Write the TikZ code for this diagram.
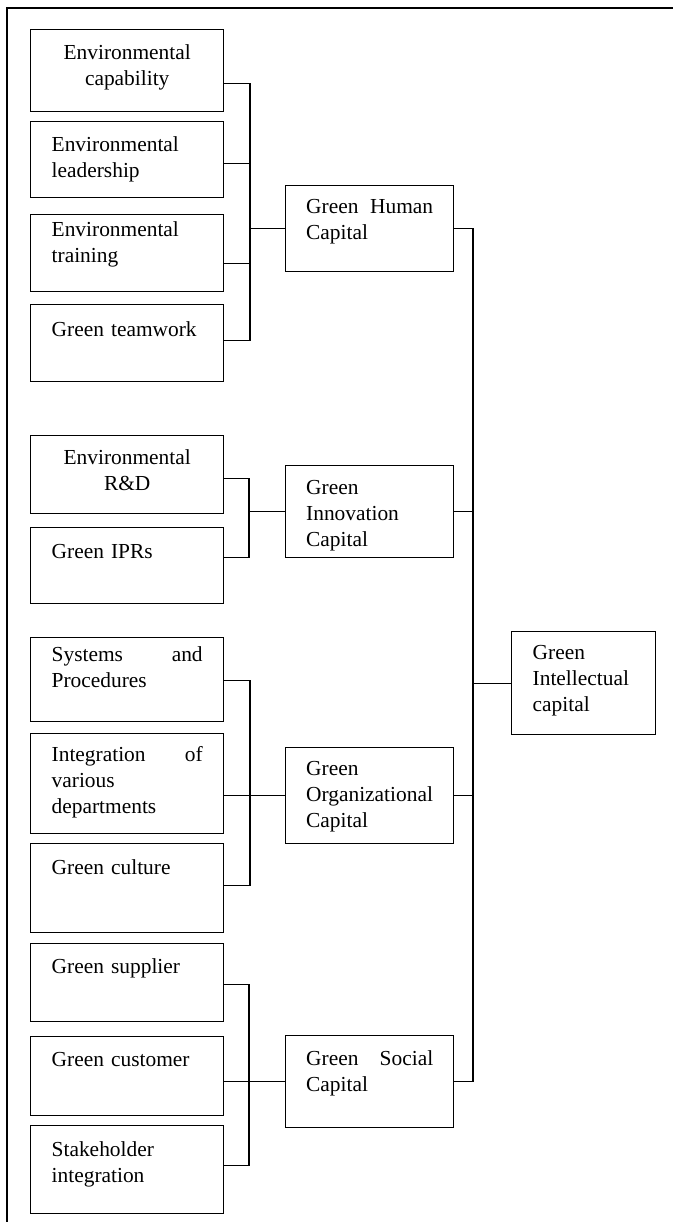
\documentclass[tikz,border=0pt]{standalone}
\usepackage{fontspec}
\setmainfont{Liberation Serif}

\tikzset{
  box/.style={draw, line width=0.7pt, anchor=north west, inner sep=0pt},
  leaf/.style={box, minimum width=96.5pt, minimum height=#1},
  mid/.style={box, minimum width=84pt, minimum height=#1},
  txt/.style={inner sep=0pt, anchor=north, text width=#1, align=left,
    font=\fontsize{10.7pt}{13pt}\selectfont, execute at begin node=\strut},
  ctxt/.style={txt=#1, align=center},
  wire/.style={line width=0.65pt},
}

\begin{document}
\begin{tikzpicture}[x=0.5pt, y=-0.5pt]
\useasboundingbox (0,0) rectangle (673,1222);

%外框
\draw[line width=0.9pt] (7,1222) -- (7,8) -- (673,8);

%人力資本
\node[leaf=41pt] (cap) at (30,29) {};
\node[ctxt=75.5pt] (capT) at ([yshift=-6pt]cap.north) {Environmental\\capability};
\node[leaf=38pt] (lea) at (30,121) {};
\node[txt=75.5pt] (leaT) at ([yshift=-6pt]lea.north) {Environmental\\leadership};
\node[leaf=38.5pt] (tra) at (30,214) {};
\node[txt=75.5pt] (traT) at ([yshift=-2pt]tra.north) {Environmental\\training};
\node[leaf=38.5pt] (tea) at (30,304) {};
\node[txt=75.5pt] (teaT) at ([yshift=-7pt]tea.north) {Green teamwork};

\node[mid=43pt] (hum) at (285,185) {};
\node[txt=63.5pt] (humT) at ([yshift=-5pt]hum.north) {Green\hfill Human\\Capital};

%創新資本
\node[leaf=39pt] (rnd) at (30,435) {};
\node[ctxt=75.5pt] (rndT) at ([yshift=-5.5pt]rnd.north) {Environmental\\R\&D};
\node[leaf=38pt] (ipr) at (30,527) {};
\node[txt=75.5pt] (iprT) at ([yshift=-6.5pt]ipr.north) {Green IPRs};

\node[mid=46pt] (inn) at (285,465) {};
\node[txt=63.5pt] (innT) at ([yshift=-5.5pt]inn.north) {Green\\Innovation\\Capital};

%組織資本
\node[leaf=42pt] (sys) at (30,637) {};
\node[txt=75.5pt] (sysT) at ([yshift=-3pt]sys.north) {Systems\hfill and\\Procedures};
\node[leaf=50pt] (itg) at (30,733) {};
\node[txt=75.5pt] (itgT) at ([yshift=-5pt]itg.north) {Integration\hfill of\\various\\departments};
\node[leaf=44.5pt] (cul) at (30,843) {};
\node[txt=75.5pt] (culT) at ([yshift=-6.5pt]cul.north) {Green culture};

\node[mid=48pt] (org) at (285,747) {};
\node[txt=63.5pt] (orgT) at ([yshift=-5pt]org.north) {Green\\Organizational\\Capital};

%社會資本
\node[leaf=39pt] (sup) at (30,943) {};
\node[txt=75.5pt] (supT) at ([yshift=-6pt]sup.north) {Green supplier};
\node[leaf=39.5pt] (cus) at (30,1036) {};
\node[txt=75.5pt] (cusT) at ([yshift=-6pt]cus.north) {Green customer};
\node[leaf=44pt] (stk) at (30,1125) {};
\node[txt=75.5pt] (stkT) at ([yshift=-6.5pt]stk.north) {Stakeholder\\integration};

\node[mid=46pt] (soc) at (285,1035) {};
\node[txt=63.5pt] (socT) at ([yshift=-6pt]soc.north) {Green\hfill Social\\Capital};

%智慧資本
\node[box, minimum width=72pt, minimum height=51.5pt] (gic) at (511,631) {};
\node[txt=51pt] (gicT) at ([yshift=-5pt]gic.north) {Green\\Intellectual\\capital};

%連接線
\coordinate (hbus) at ([xshift=-17.5pt]hum.west);
\draw[wire] ([yshift=-6.5pt]cap.east) -| (hbus) |- ([yshift=1.5pt]tea.east);
\draw[wire] ([yshift=-2pt]lea.east) -- ++(13.5pt,0);
\draw[wire] ([yshift=-5pt]tra.east) -- ++(13.5pt,0);
\draw[wire] (hbus) -- (hum.west);

\coordinate (ibus) at ([xshift=-18pt]inn.west);
\draw[wire] ([yshift=-2pt]rnd.east) -| (ibus) |- ([yshift=4pt]ipr.east);
\draw[wire] (ibus) -- (inn.west);

\coordinate (obus) at ([xshift=-17.5pt]org.west);
\draw[wire] ([yshift=-0.5pt]sys.east) -| (obus) |- ([yshift=1.25pt]cul.east);
\draw[wire] (org.west) -- (org.west -| itg.east);

\coordinate (sbus) at ([xshift=-18pt]soc.west);
\draw[wire] ([yshift=-1pt]sup.east) -| (sbus) |- ([yshift=2pt]stk.east);
\draw[wire] (soc.west) -- (soc.west -| cus.east);

\coordinate (tbus) at ([xshift=-19pt]gic.west);
\draw[wire] (hum.east) -| (tbus) |- (soc.east);
\draw[wire] (inn.east) -- (inn.east -| tbus);
\draw[wire] (org.east) -- (org.east -| tbus);
\draw[wire] (tbus) -- (gic.west);

\end{tikzpicture}
\end{document}
